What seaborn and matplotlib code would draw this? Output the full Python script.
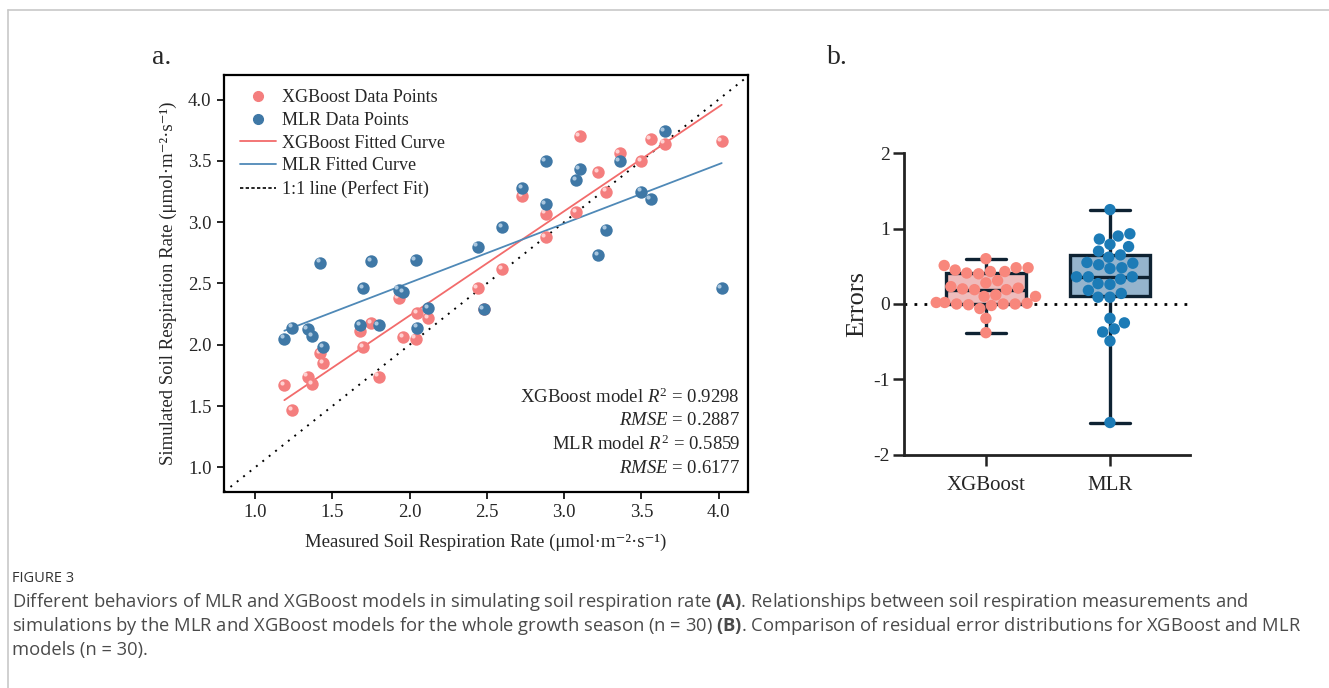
import numpy as np
import pandas as pd
import seaborn as sns
import matplotlib.pyplot as plt
from matplotlib.lines import Line2D
from matplotlib.transforms import ScaledTranslation

# values
measured = [1.19, 1.24, 1.34, 1.37, 1.42, 1.44, 1.68, 1.70, 1.75, 1.80,
            1.93, 1.96, 2.04, 2.05, 2.12, 2.44, 2.48, 2.60, 2.73, 2.88,
            2.88, 3.08, 3.10, 3.22, 3.27, 3.36, 3.50, 3.56, 3.65, 4.02]
xgb_simulated = [1.67, 1.47, 1.74, 1.68, 1.93, 1.85, 2.11, 1.98, 2.18, 1.74,
                 2.38, 2.06, 2.05, 2.26, 2.22, 2.46, 2.29, 2.62, 3.21, 3.07,
                 2.88, 3.08, 3.70, 3.41, 3.25, 3.56, 3.50, 3.68, 3.64, 3.66]
mlr_simulated = [2.05, 2.14, 2.13, 2.07, 2.67, 1.98, 2.16, 2.46, 2.68, 2.16,
                 2.45, 2.43, 2.69, 2.14, 2.30, 2.80, 2.29, 2.96, 3.28, 3.50,
                 3.15, 3.34, 3.43, 2.73, 2.94, 3.50, 3.25, 3.19, 3.74, 2.46]

# fitted lines (slope, intercept) as drawn in the figure
xgb_fit = (0.851, 0.536)
mlr_fit = (0.483, 1.540)

stats_lines = [r"XGBoost model $R^2$ = 0.9298", r"$RMSE$ = 0.2887",
               r"MLR model $R^2$ = 0.5859", r"$RMSE$ = 0.6177"]

# residual errors (panel b)
models = ["XGBoost", "MLR"]
errors_xgb = [0.48, 0.23, 0.40, 0.31, 0.51, 0.41, 0.43, 0.28, 0.43, -0.06,
              0.45, 0.10, 0.01, 0.21, 0.10, 0.02, -0.19, 0.02, 0.48, 0.19,
              0.00, 0.00, 0.60, 0.19, -0.02, 0.20, 0.00, 0.12, -0.01, -0.38]
errors_mlr = [0.86, 0.90, 0.79, 0.70, 1.25, 0.54, 0.48, 0.76, 0.93, 0.36,
              0.52, 0.47, 0.65, 0.09, 0.18, 0.36, -0.19, 0.36, 0.55, 0.62,
              0.27, 0.26, 0.33, -0.49, -0.33, 0.14, -0.25, -0.37, 0.09, -1.57]

caption = [r"Different behaviors of MLR and XGBoost models in simulating soil respiration rate $\mathbf{(A)}$. Relationships between soil respiration measurements and",
           r"simulations by the MLR and XGBoost models for the whole growth season (n = 30) $\mathbf{(B)}$. Comparison of residual error distributions for XGBoost and MLR",
           "models (n = 30)."]

sns.set_theme(style="white")
plt.rcParams["font.family"] = ["Liberation Serif", "DejaVu Serif"]
plt.rcParams["mathtext.fontset"] = "custom"
plt.rcParams["mathtext.rm"] = "Liberation Serif"
plt.rcParams["mathtext.it"] = "Liberation Serif:italic"
plt.rcParams["mathtext.bf"] = "Open Sans:bold"
plt.rcParams["axes.unicode_minus"] = False

RED = "#F47E7E"
BLUE = "#3F78A6"

fig = plt.figure(figsize=(13.29, 6.88), dpi=100)
fig.patch.set_facecolor("white")

# ---- panel a: scatter --------------------------------------------------
ax1 = fig.add_axes([0.1686, 0.2849, 0.3942, 0.6061])
ax1.set_xlim(0.80, 4.19)
ax1.set_ylim(0.80, 4.20)

df_a = pd.DataFrame({"measured": measured, "xgb": xgb_simulated, "mlr": mlr_simulated})

# fitted lines
xs = np.array([min(measured), max(measured)])
fit_df = pd.DataFrame({"x": xs,
                       "xgb": xgb_fit[0] * xs + xgb_fit[1],
                       "mlr": mlr_fit[0] * xs + mlr_fit[1]})
ax1.axline((1, 1), slope=1, color="black", ls=(0, (1, 3.2)), lw=1.4, zorder=1)
sns.lineplot(data=fit_df, x="x", y="xgb", color="#F26B6B", lw=1.3, ax=ax1, zorder=2)
sns.lineplot(data=fit_df, x="x", y="mlr", color="#4F89B7", lw=1.3, ax=ax1, zorder=2)

# points with a small highlight so they look like little spheres
hl = ScaledTranslation(-1.6 / 72, 1.6 / 72, fig.dpi_scale_trans)
for col, c, hc in [("xgb", RED, "#FFD0D0"), ("mlr", BLUE, "#A9C6DE")]:
    sns.scatterplot(data=df_a, x="measured", y=col, color=c, s=80,
                    edgecolor=c, linewidth=0, ax=ax1, zorder=3)
    sns.scatterplot(data=df_a, x="measured", y=col, color=hc, s=9,
                    linewidth=0, ax=ax1, zorder=3)
    ax1.collections[-1].set_offset_transform(ax1.transData + hl)

ax1.set_xticks([1.0, 1.5, 2.0, 2.5, 3.0, 3.5, 4.0])
ax1.set_yticks([1.0, 1.5, 2.0, 2.5, 3.0, 3.5, 4.0])
ax1.tick_params(axis="both", labelsize=13.5, length=5, width=1.2, color="black",
                bottom=True, left=True, direction="out", pad=4)
for s in ax1.spines.values():
    s.set_color("black")
    s.set_linewidth(1.6)
ax1.set_xlabel("Measured Soil Respiration Rate (μmol·m⁻²·s⁻¹)", fontsize=13.5, labelpad=9)
ax1.set_ylabel("Simulated Soil Respiration Rate (μmol·m⁻²·s⁻¹)", fontsize=13.5, labelpad=8)

for i, txt in enumerate(stats_lines):
    ax1.text(0.985, 0.228 - i * 0.057, txt, transform=ax1.transAxes,
             ha="right", va="center", fontsize=13.5)

handles = [
    Line2D([], [], ls="none", marker="o", ms=7, color=RED, label="XGBoost Data Points"),
    Line2D([], [], ls="none", marker="o", ms=7, color=BLUE, label="MLR Data Points"),
    Line2D([], [], color="#F26B6B", lw=1.3, label="XGBoost Fitted Curve"),
    Line2D([], [], color="#4F89B7", lw=1.3, label="MLR Fitted Curve"),
    Line2D([], [], color="black", lw=1.2, ls=(0, (2, 1.4)), label="1:1 line (Perfect Fit)"),
]
ax1.legend(handles=handles, loc="upper left", bbox_to_anchor=(0.0, 1.005), frameon=False,
           fontsize=13, handlelength=2.0, handletextpad=0.3, labelspacing=0.32,
           borderaxespad=0.5)

# ---- panel b: box + swarm ------------------------------------------------
ax2 = fig.add_axes([0.6802, 0.3387, 0.2152, 0.4389])
df_b = pd.DataFrame({"model": ["XGBoost"] * len(errors_xgb) + ["MLR"] * len(errors_mlr),
                     "error": errors_xgb + errors_mlr})

ax2.axhline(0, color="black", ls=(0, (1, 2.6)), lw=2, zorder=1)
sns.boxplot(data=df_b, x="model", y="error", hue="model", order=models,
            palette={"XGBoost": "#F7B4B4", "MLR": "#8CB5D6"}, width=0.65,
            whis=(0, 100), showfliers=False, linecolor="#0E2232", linewidth=2.4,
            legend=False, ax=ax2, zorder=2)
sns.swarmplot(data=df_b, x="model", y="error", hue="model", order=models,
              palette={"XGBoost": "#F8877C", "MLR": "#1C7BB6"}, size=8.2,
              linewidth=0, legend=False, ax=ax2, zorder=3)

ax2.set_xlim(-0.66, 1.645)
ax2.set_ylim(-2, 2)
ax2.set_yticks([-2, -1, 0, 1, 2])
ax2.set_xlabel("")
ax2.set_ylabel("Errors", fontsize=19, labelpad=4)
sns.despine(ax=ax2)
for side in ["left", "bottom"]:
    ax2.spines[side].set_color("#222222")
    ax2.spines[side].set_linewidth(2)
ax2.tick_params(axis="both", length=8, width=1.8, color="#222222",
                bottom=True, left=True, direction="out")
ax2.tick_params(axis="y", labelsize=14, pad=2)
ax2.tick_params(axis="x", labelsize=15, pad=7)

# panel labels
fig.text(0.1145, 0.917, "a.", fontsize=20, ha="left", va="center")
fig.text(0.622, 0.917, "b.", fontsize=20, ha="left", va="center")

# caption and frame
cap_font = ["Open Sans", "DejaVu Sans"]
fig.text(0.009, 1 - 578 / 688, "FIGURE 3", fontsize=10.5, color="#333333",
         family=cap_font, ha="left", va="center")
for i, line in enumerate(caption):
    fig.text(0.009, 1 - (602 + 24 * i) / 688, line, fontsize=13.2, color="#4a4a4a",
             family=cap_font, ha="left", va="center")

fig.add_artist(Line2D([8 / 1329, 1], [1 - 10 / 688, 1 - 10 / 688],
                      transform=fig.transFigure, color="#c8c8c8", lw=1.2))
fig.add_artist(Line2D([8 / 1329, 8 / 1329], [0, 1 - 10 / 688],
                      transform=fig.transFigure, color="#c8c8c8", lw=1.2))

fig.savefig("out.png", dpi=100, facecolor="white")
